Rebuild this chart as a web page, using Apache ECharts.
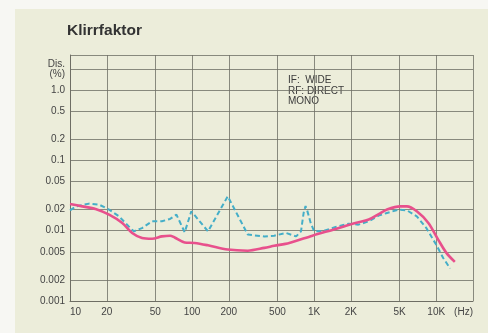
<!DOCTYPE html>
<html><head><meta charset="utf-8">
<script src="https://cdn.jsdelivr.net/npm/echarts@6/dist/echarts.min.js"></script>
<style>html,body{margin:0;padding:0;background:#f7f7f3;}#c{width:488px;height:333px;}</style>
</head><body><div id="c"></div>
<script>
// ---- data ----
const titleText = 'Klirrfaktor';
const noteLines = ['IF:  WIDE', 'RF: DIRECT', 'MONO'];

const xTickValues = [10, 20, 50, 100, 200, 500, 1000, 2000, 5000, 10000, 20000];
const xTickLabels = ['10', '20', '50', '100', '200', '500', '1K', '2K', '5K', '10K', '(Hz)'];

const yTickValues = [0.001, 0.002, 0.005, 0.01, 0.02, 0.05, 0.1, 0.2, 0.5, 1, 2, 3.1623];
const yTickLabels = ['0.001', '0.002', '0.005', '0.01', '0.02', '0.05', '0.1', '0.2', '0.5', '1.0', 'Dis.\n(%)', ''];

const pinkFreq = [10, 12.6, 16.2, 20.9, 26.8, 32.3, 38.9, 47, 56.6, 66, 72, 87, 105, 135, 196, 286, 391, 471, 625, 967, 1500, 2180, 2800, 3375, 3950, 5070, 5750, 6930, 8620, 10400, 12150, 14200];
const pinkVal  = [0.024, 0.0222, 0.0204, 0.0169, 0.0129, 0.0093, 0.0079, 0.0077, 0.0083, 0.0085, 0.0080, 0.0068, 0.0067, 0.0062, 0.0054, 0.0052, 0.0057, 0.0061, 0.0067, 0.0085, 0.0106, 0.0129, 0.0144, 0.0172, 0.020, 0.0222, 0.0222, 0.0189, 0.0129, 0.0074, 0.0048, 0.0036];

const cyanFreq = [10, 11.2, 14.3, 17.3, 20.9, 25.2, 30.3, 33.3, 38.9, 47, 56.6, 66, 74.5, 87, 98.6, 135, 196, 286, 391, 471, 586, 712, 780, 820, 850, 880, 935, 1000, 1160, 1500, 1920, 2300, 2800, 3375, 3950, 4930, 5750, 6930, 8300, 10000, 11400, 13000];
const cyanVal  = [0.0195, 0.0222, 0.0243, 0.0235, 0.020, 0.016, 0.0115, 0.0098, 0.0109, 0.0136, 0.0136, 0.0147, 0.0169, 0.0095, 0.0189, 0.0098, 0.0309, 0.0088, 0.0083, 0.0085, 0.0093, 0.0083, 0.0098, 0.018, 0.0225, 0.019, 0.013, 0.0098, 0.0098, 0.0113, 0.0126, 0.0122, 0.0136, 0.0164, 0.0179, 0.020, 0.0195, 0.016, 0.0109, 0.0063, 0.0041, 0.0029];

// ---- chart ----
function lookup(vals, labels, v) {
  for (let i = 0; i < vals.length; i++) {
    if (Math.abs(Math.log10(v) - Math.log10(vals[i])) < 1e-4) return labels[i];
  }
  return '';
}
const gridColor = '#6e6e64';
const font = '"Liberation Sans", Arial, sans-serif';
const chart = echarts.init(document.getElementById('c'), null, {renderer: 'canvas'});
chart.setOption({
  backgroundColor: 'transparent',
  animation: false,
  graphic: [
    {type: 'rect', shape: {x: 15, y: 9, width: 473, height: 324}, style: {fill: '#ecedda'}, z: -10, silent: true},
    {type: 'text', left: 67, top: 23, style: {text: titleText, font: 'bold 15.5px ' + font, fill: '#333333'}},
    {type: 'text', left: 288, top: 75, style: {text: noteLines.join('\n'), font: '10px ' + font, lineHeight: 10.5, fill: '#3a3a3a'}}
  ],
  grid: {left: 70, right: 15, top: 55, bottom: 32, containLabel: false},
  xAxis: {
    type: 'log', logBase: 10, min: 10, max: 20000,
    axisLine: {show: true, lineStyle: {color: gridColor, width: 1}},
    axisTick: {show: false, customValues: xTickValues},
    splitLine: {show: true, lineStyle: {color: gridColor, width: 0.8}},
    axisLabel: {
      customValues: xTickValues,
      formatter: v => lookup(xTickValues, xTickLabels, v),
      color: '#444', fontSize: 10, fontFamily: font,
      margin: 6, alignMinLabel: 'left', alignMaxLabel: 'right'
    }
  },
  yAxis: {
    type: 'log', logBase: 10, min: 0.001, max: 3.1623,
    axisLine: {show: true, lineStyle: {color: gridColor, width: 1}},
    axisTick: {show: false, customValues: yTickValues},
    splitLine: {show: true, lineStyle: {color: gridColor, width: 0.8}},
    axisLabel: {
      customValues: yTickValues,
      formatter: v => lookup(yTickValues, yTickLabels, v),
      color: '#444', fontSize: 10, lineHeight: 10, fontFamily: font,
      margin: 5, showMinLabel: true, showMaxLabel: true
    }
  },
  series: [
    {
      type: 'line', name: 'cyan', data: cyanFreq.map((f, i) => [f, cyanVal[i]]),
      showSymbol: false, smooth: false,
      lineStyle: {color: '#44aec8', width: 2, type: [5, 3]}, z: 3
    },
    {
      type: 'line', name: 'pink', data: pinkFreq.map((f, i) => [f, pinkVal[i]]),
      showSymbol: false, smooth: 0.3,
      lineStyle: {color: '#e8508c', width: 2.6}, z: 4
    }
  ]
});
</script></body></html>
